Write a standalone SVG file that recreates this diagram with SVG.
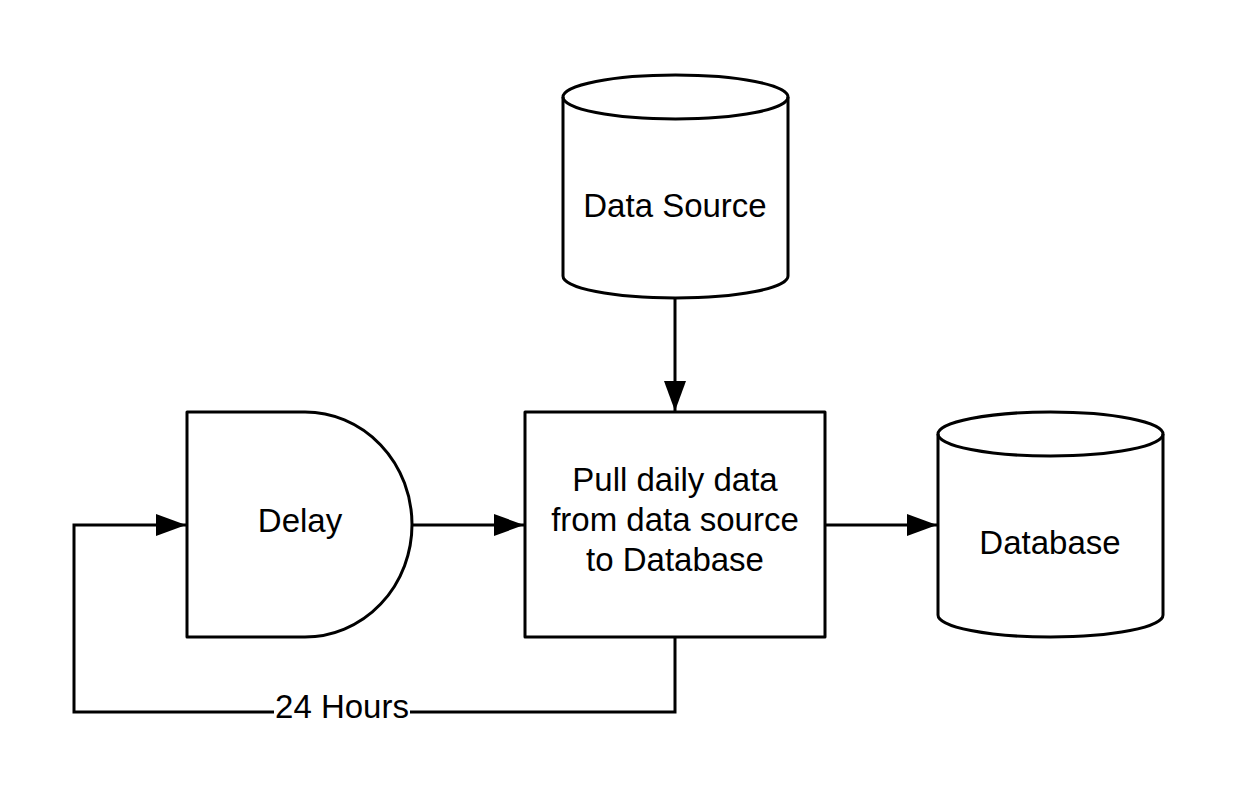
<svg xmlns="http://www.w3.org/2000/svg" width="1238" height="808" viewBox="0 0 1238 808">
<defs>
<style>
.shape{fill:#fff;stroke:#000;stroke-width:3;stroke-linejoin:round}
.line{fill:none;stroke:#000;stroke-width:3}
text{font-family:"Liberation Sans",Arial,sans-serif;font-size:33px;fill:#000;text-anchor:middle}
</style>
<marker id="arr" markerUnits="userSpaceOnUse" markerWidth="30" markerHeight="22" refX="30" refY="11" orient="auto">
<path d="M0,0 L30,11 L0,22 Z" fill="#000"/>
</marker>
</defs>
<rect width="1238" height="808" fill="#fff"/>
<g id="connectors">
<path class="line" d="M675,298 L675,411" marker-end="url(#arr)"/>
<path class="line" d="M412,525 L524,525" marker-end="url(#arr)"/>
<path class="line" d="M825,525 L937,525" marker-end="url(#arr)"/>
<path class="line" d="M675,637 L675,712 L74,712 L74,525 L186,525" marker-end="url(#arr)"/>
<rect x="274" y="694" width="136" height="34" fill="#fff"/>
<text x="342" y="718">24 Hours</text>
</g>
<g id="data-source">
<path class="shape" d="M563,97 A112.5,22 0 0 1 788,97 L788,276 A112.5,22 0 0 1 563,276 Z"/>
<path class="line" d="M563,97 A112.5,22 0 0 0 788,97"/>
<text x="675" y="217">Data Source</text>
</g>
<g id="delay">
<path class="shape" d="M187,412 L305,412 A107,112.5 0 0 1 305,637 L187,637 Z"/>
<text x="300" y="532">Delay</text>
</g>
<g id="process">
<rect class="shape" x="525" y="412" width="300" height="225"/>
<text x="675" y="491">Pull daily data</text>
<text x="675" y="531">from data source</text>
<text x="675" y="571">to Database</text>
</g>
<g id="database">
<path class="shape" d="M938,434 A112.5,22 0 0 1 1163,434 L1163,615 A112.5,22 0 0 1 938,615 Z"/>
<path class="line" d="M938,434 A112.5,22 0 0 0 1163,434"/>
<text x="1050" y="554">Database</text>
</g>
</svg>
